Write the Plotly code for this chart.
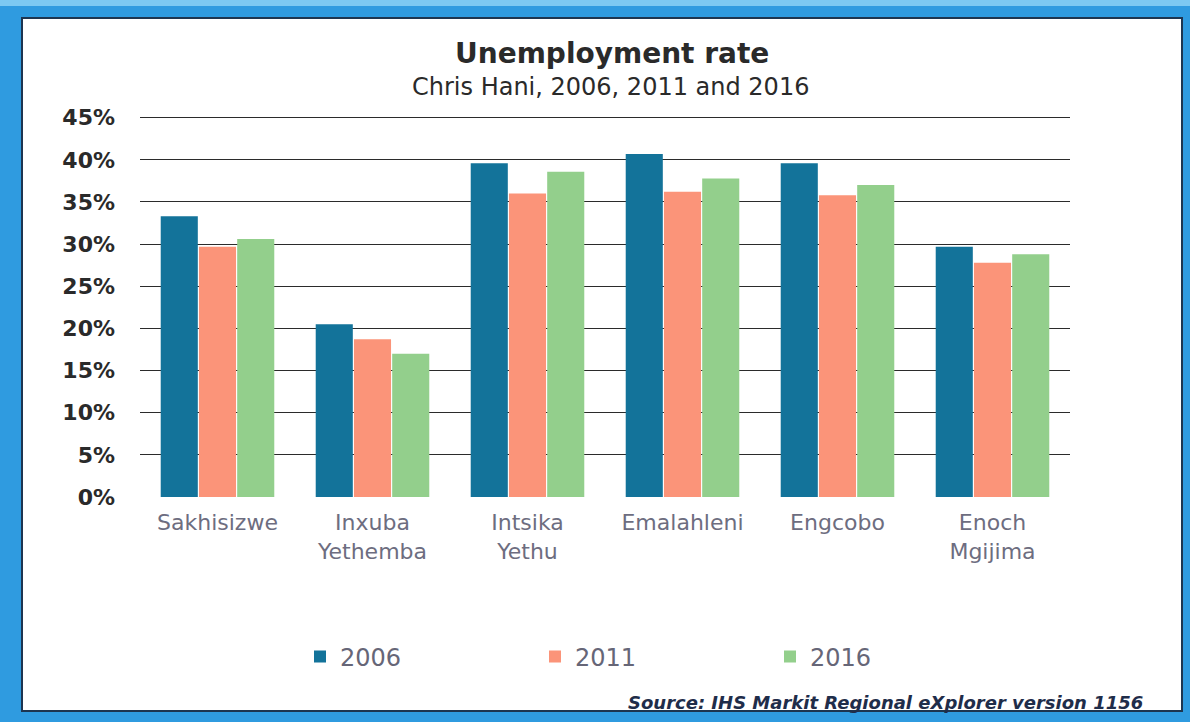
import plotly.graph_objects as go

# Local municipalities of Chris Hani district
municipalities = ["Sakhisizwe", "Inxuba<br>Yethemba", "Intsika<br>Yethu",
                  "Emalahleni", "Engcobo", "Enoch<br>Mgijima"]

# Unemployment rate (%) per year
rate_2006 = [33.3, 20.5, 39.6, 40.7, 39.6, 29.7]
rate_2011 = [29.7, 18.7, 36.0, 36.2, 35.8, 27.8]
rate_2016 = [30.6, 17.0, 38.6, 37.8, 37.0, 28.8]

y_ticks = [0, 5, 10, 15, 20, 25, 30, 35, 40, 45]
y_tick_labels = [f"{v}%" for v in y_ticks]

W, H = 1190, 722
L, R, T, B = 140, 120, 116, 225
PW, PH = W - L - R, H - T - B


def px(x):
    return (x - L) / PW


def py(y):
    return (H - B - y) / PH


series = [
    ("2006", rate_2006, "#13739a"),
    ("2011", rate_2011, "#fb9479"),
    ("2016", rate_2016, "#93cf8c"),
]

fig = go.Figure()
for name, vals, col in series:
    fig.add_trace(go.Bar(
        name=name, x=municipalities, y=vals,
        marker=dict(color=col, line=dict(width=0)),
    ))

shapes = [
    # white card with dark edge inside the blue frame
    dict(type="rect", xref="paper", yref="paper", layer="below",
         x0=px(22), x1=px(1182), y0=py(711), y1=py(18),
         fillcolor="white", line=dict(color="#1d3550", width=2)),
    # lighter band along the top of the frame
    dict(type="rect", xref="paper", yref="paper", layer="below",
         x0=px(0), x1=px(1190), y0=py(6), y1=py(0),
         fillcolor="#7cc9f2", line=dict(width=0)),
]

annotations = [
    dict(text="<b>Unemployment rate</b>", x=px(612), y=py(54),
         xref="paper", yref="paper", showarrow=False,
         xanchor="center", yanchor="middle",
         font=dict(family="DejaVu Sans", size=28, color="#2a2a2a")),
    dict(text="Chris Hani, 2006, 2011 and 2016", x=px(610), y=py(87),
         xref="paper", yref="paper", showarrow=False,
         xanchor="center", yanchor="middle",
         font=dict(family="DejaVu Sans", size=24, color="#2a2a2a")),
    dict(text="<b><i>Source: IHS Markit Regional eXplorer version 1156</i></b>",
         x=px(1145), y=py(702), xref="paper", yref="paper", showarrow=False,
         xanchor="right", yanchor="middle",
         font=dict(family="DejaVu Sans", size=18, color="#1f2d4a")),
]

fig.update_layout(
    width=W, height=H,
    margin=dict(l=L, r=R, t=T, b=B),
    paper_bgcolor="#2f9be0",
    plot_bgcolor="white",
    barmode="group",
    bargap=0.26,
    bargroupgap=0.03,
    shapes=shapes,
    annotations=annotations,
    showlegend=True,
    legend=dict(
        orientation="h", x=px(300), y=py(657),
        xanchor="left", yanchor="middle",
        entrywidth=190, entrywidthmode="pixels",
        font=dict(family="DejaVu Sans", size=24, color="#666677"),
        bgcolor="rgba(0,0,0,0)",
    ),
    font=dict(family="DejaVu Sans"),
)

fig.update_xaxes(
    showgrid=False, showline=False, zeroline=False,
    tickfont=dict(family="DejaVu Sans", size=22, color="#6d6d80"),
    ticklabelstandoff=10,
)
fig.update_yaxes(
    range=[0, 45.2], tickvals=y_ticks, ticktext=y_tick_labels,
    showgrid=True, gridcolor="#2b2b2b", gridwidth=1,
    zeroline=True, zerolinecolor="white",
    showline=False,
    tickfont=dict(family="DejaVu Sans", size=22, color="#2a2a2a", weight="bold"),
    ticklabelstandoff=24,
)

fig.write_html("out.html")
